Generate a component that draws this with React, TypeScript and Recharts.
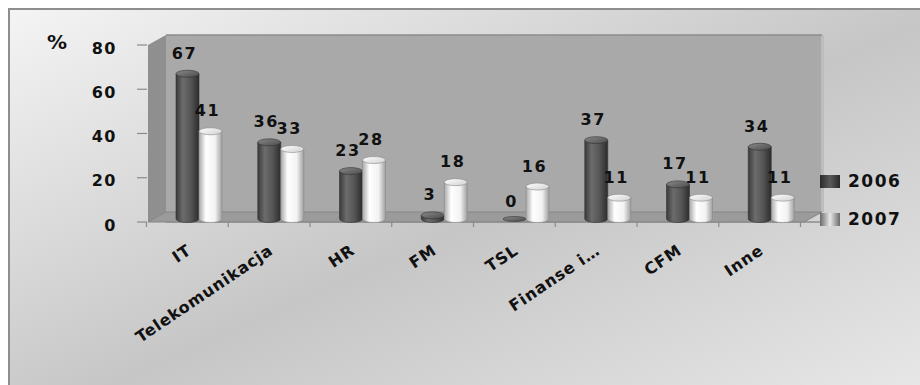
import React from 'react'
import {
  BarChart, Bar, XAxis, YAxis, CartesianGrid, LabelList,
} from 'recharts'

const categories = ['IT', 'Telekomunikacja', 'HR', 'FM', 'TSL', 'Finanse i…', 'CFM', 'Inne']
const values2006 = [67, 36, 23, 3, 0, 37, 17, 34]
const values2007 = [41, 33, 28, 18, 16, 11, 11, 11]
const yTicks = [0, 20, 40, 60, 80]
const seriesNames = ['2006', '2007']

const FONT = '"DejaVu Sans", Verdana, sans-serif'

const MARGIN = { top: 35, right: 98, left: 87, bottom: 103 }
const Y_W = 60
const X_PAD = { left: 11, right: 10 }
const PLOT_W = 920 - MARGIN.left - MARGIN.right - Y_W
const BAND = (PLOT_W - X_PAD.left - X_PAD.right) / categories.length
const DEPTH = 11.5 // 3D shift of the bars vs. the front axis

const data = categories.map((name, i) => ({
  name,
  y2006: values2006[i],
  y2007: values2007[i],
}))

function makeCylinder(bodyFill: string, capFill: string, edge: string) {
  return (props: any) => {
    const { x, y, width, height } = props
    if (x == null || y == null) return null
    const rx = width / 2
    const ry = 3.5
    const bottom = y + Math.max(height, 0) - 3
    return (
      <g>
        {bottom > y && (
          <path
            d={`M${x},${y} L${x},${bottom} A${rx},${ry} 0 0 0 ${x + width},${bottom} L${x + width},${y} Z`}
            fill={bodyFill}
            stroke={edge}
            strokeWidth={0.6}
          />
        )}
        <ellipse
          cx={x + rx}
          cy={Math.min(y, bottom)}
          rx={rx}
          ry={bottom > y ? ry : 2.5}
          fill={capFill}
          stroke={edge}
          strokeWidth={0.6}
        />
      </g>
    )
  }
}

const darkShape = makeCylinder('url(#dark)', 'url(#darkCap)', '#333')
const lightShape = makeCylinder('url(#light)', 'url(#lightCap)', '#8a8a8a')

function renderXTick(props: any) {
  const { x, y, payload, index } = props
  const front = x - DEPTH
  const left = front - BAND / 2
  const last = index === categories.length - 1
  return (
    <g>
      <line x1={left} x2={left} y1={y} y2={y + 5} stroke="#8a8a8a" strokeWidth={1.2} />
      {last && <line x1={left + BAND} x2={left + BAND} y1={y} y2={y + 5} stroke="#8a8a8a" strokeWidth={1.2} />}
      <text
        transform={`translate(${front + 5},${y + 31}) rotate(-34)`}
        textAnchor="end"
        fontFamily={FONT}
        fontWeight="bold"
        fontSize={16}
        letterSpacing={0.8}
        fill="#111"
      >
        {payload.value}
      </text>
    </g>
  )
}

function renderLabel(props: any) {
  const { x, y, width, value } = props
  return (
    <text
      x={x + width / 2 - 3}
      y={y - 15}
      textAnchor="middle"
      fontFamily={FONT}
      fontWeight="bold"
      fontSize={16}
      letterSpacing={1.5}
      fill="#111"
    >
      {value}
    </text>
  )
}

function renderPercent(props: any) {
  const { viewBox } = props
  return (
    <text
      x={viewBox.x - 30}
      y={viewBox.y + 14}
      textAnchor="middle"
      fontFamily={FONT}
      fontWeight="bold"
      fontSize={20}
      fill="#111"
    >
      %
    </text>
  )
}

const swatches = [
  'linear-gradient(90deg, #2a2a2a, #5a5a5a 50%, #2a2a2a)',
  'linear-gradient(90deg, #6a6a6a, #e8e8e8 50%, #6a6a6a)',
]

export default function App() {
  return (
    <div style={{ position: 'absolute', left: 0, top: 0, width: 920, height: 385, overflow: 'hidden', background: '#fff' }}>
      <div
        style={{
          position: 'absolute', left: 8, top: 8, width: 940, height: 420,
          border: '2px solid #8e8e8e',
          background: 'linear-gradient(to bottom right, #f4f4f4 0%, #c6c6c6 50%, #ececec 100%)',
        }}
      />
      {/* 3D walls */}
      <svg width={920} height={385} style={{ position: 'absolute', left: 0, top: 0 }}>
        <rect x={166} y={35} width={656} height={177} fill="#a9a9a9" />
        <rect x={821} y={35} width={3} height={177} fill="#bdbdbd" />
        <polygon points="148,45 166,35 166,212 148,222" fill="#8f8f8f" />
        <polygon points="148,222 166,212 822,212 804,222" fill="#9b9b9b" stroke="#858585" strokeWidth={1} />
      </svg>
      <div style={{ position: 'absolute', left: 0, top: 0 }}>
        <BarChart
          width={920}
          height={385}
          data={data}
          margin={MARGIN}
          barGap={0}
          barSize={23}
        >
          <defs>
            <linearGradient id="dark" x1="0" y1="0" x2="1" y2="0">
              <stop offset="0%" stopColor="#3a3a3a" />
              <stop offset="30%" stopColor="#6c6c6c" />
              <stop offset="65%" stopColor="#555" />
              <stop offset="100%" stopColor="#2c2c2c" />
            </linearGradient>
            <linearGradient id="darkCap" x1="0" y1="0" x2="1" y2="1">
              <stop offset="0%" stopColor="#8a8a8a" />
              <stop offset="100%" stopColor="#4a4a4a" />
            </linearGradient>
            <linearGradient id="light" x1="0" y1="0" x2="1" y2="0">
              <stop offset="0%" stopColor="#a8a8a8" />
              <stop offset="30%" stopColor="#ffffff" />
              <stop offset="70%" stopColor="#f2f2f2" />
              <stop offset="100%" stopColor="#a0a0a0" />
            </linearGradient>
            <linearGradient id="lightCap" x1="0" y1="0" x2="1" y2="1">
              <stop offset="0%" stopColor="#ffffff" />
              <stop offset="100%" stopColor="#d0d0d0" />
            </linearGradient>
          </defs>
          <CartesianGrid
            yAxisId="wall"
            vertical={false}
            stroke="#8c8c8c"
            strokeWidth={1.3}
            x={166}
            width={656}
          />
          <XAxis
            dataKey="name"
            interval={0}
            tickLine={false}
            axisLine={false}
            tickSize={0}
            tickMargin={0}
            padding={X_PAD}
            height={60}
            tick={renderXTick}
          />
          <YAxis
            yAxisId="val"
            domain={[0, 80]}
            ticks={yTicks}
            interval={0}
            padding={{ top: 10, bottom: 0 }}
            width={Y_W}
            axisLine={false}
            tickSize={10}
            tickMargin={20}
            tickLine={{ stroke: '#8a8a8a', strokeWidth: 1.2 }}
            tick={{ fontFamily: FONT, fontWeight: 'bold', fontSize: 16, fill: '#111', letterSpacing: 1.5, dy: 3 }}
            label={{ content: renderPercent }}
          />
          <YAxis yAxisId="wall" domain={[0, 80]} ticks={yTicks} hide padding={{ top: 0, bottom: 10 }} />
          <Bar
            yAxisId="val"
            dataKey="y2006"
            name={seriesNames[0]}
            shape={darkShape}
            isAnimationActive={false}
          >
            <LabelList dataKey="y2006" content={renderLabel} />
          </Bar>
          <Bar
            yAxisId="val"
            dataKey="y2007"
            name={seriesNames[1]}
            shape={lightShape}
            isAnimationActive={false}
          >
            <LabelList dataKey="y2007" content={renderLabel} />
          </Bar>
        </BarChart>
      </div>
      {/* legend */}
      <div style={{ position: 'absolute', left: 820, top: 170, fontFamily: FONT, fontWeight: 'bold', fontSize: 17, letterSpacing: 1.5, color: '#111' }}>
        {seriesNames.map((s, i) => (
          <div key={s} style={{ display: 'flex', alignItems: 'center', height: 22, marginBottom: i === 0 ? 16 : 0 }}>
            <span style={{ display: 'inline-block', width: 20, height: 13, background: swatches[i], marginRight: 8 }} />
            <span>{s}</span>
          </div>
        ))}
      </div>
    </div>
  )
}
